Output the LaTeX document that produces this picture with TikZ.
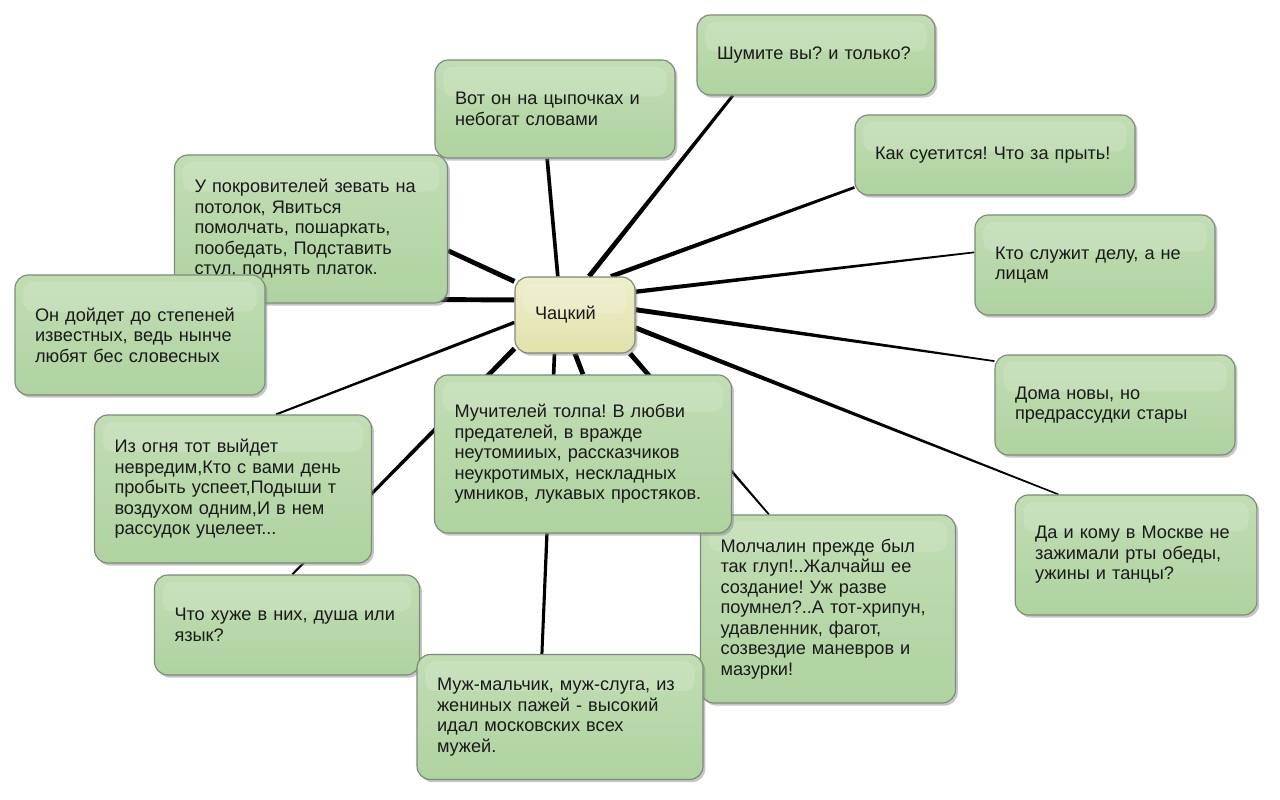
\documentclass[tikz,border=0pt]{standalone}
\usepackage{fontspec}
\setmainfont{Liberation Sans}
\usetikzlibrary{calc,shadows,backgrounds}
\definecolor{leaf}{HTML}{AFD3A0}
\definecolor{leaftop}{HTML}{C1DDB4}
\definecolor{rim}{HTML}{7D8B78}
\definecolor{hub}{HTML}{E2E2AC}
\definecolor{hubtop}{HTML}{EEEECB}
\definecolor{ink}{HTML}{1A1A1A}
\frenchspacing
% tapered spoke from the hub to a box
\newcommand{\spoke}[4]{\fill[black] ($(#1)!#3!90:(#2)$) -- ($(#2)!#4!-90:(#1)$) -- ($(#2)!#4!90:(#1)$) -- ($(#1)!#3!-90:(#2)$) -- cycle;}
\tikzset{box/.style={rounded corners=8pt,draw=rim,line width=.7pt,top color=leaftop,bottom color=leaf,
    text=ink,align=left,inner xsep=12pt,inner ysep=0pt,font=\fontsize{10.9}{12.3}\selectfont,
    drop shadow={shadow xshift=1.4pt,shadow yshift=-1.6pt,opacity=.45},
    path picture={\fill[white,opacity=.15,rounded corners=6pt] ([xshift=5pt,yshift=-4pt]path picture bounding box.north west) rectangle ([xshift=-5pt,yshift=-22pt]path picture bounding box.north east);}},
  hubbox/.style={box,top color=hubtop,bottom color=hub}}
\begin{document}
\begin{tikzpicture}[x=.6pt,y=-.6pt]
\useasboundingbox (0,0) rectangle (1280,800);
\node[hubbox,text width=48pt,minimum height=45.6pt] (c) at (575,315) {Чацкий};
\node[box,text width=118.8pt,minimum height=48pt] (shum) at (816,55) {Шумите вы? и только?};
\node[box,text width=120pt,minimum height=58.8pt] (vot) at (555,109) {Вот он на цыпочках и\\небогат словами};
\node[box,text width=144pt,minimum height=48pt] (kak) at (995,155) {Как суетится! Что за прыть!};
\node[box,text width=120pt,minimum height=60pt] (kto) at (1095,265) {Кто служит делу, а не\\лицам};
\node[box,text width=120pt,minimum height=60pt] (doma) at (1115,405) {Дома новы, но\\предрассудки стары};
\node[box,text width=121pt,minimum height=72pt] (da) at (1136,555) {Да и кому в Москве не\\зажимали рты обеды,\\ужины и танцы?};
\node[box,text width=139.8pt,minimum height=88.8pt] (upok) at (311,229) {У покровителей зевать на\\потолок, Явиться\\помолчать, пошаркать,\\пообедать, Подставить\\стул, поднять платок.};
\node[box,text width=126pt,minimum height=72pt] (on) at (140,335) {Он дойдет до степеней\\известных, ведь нынче\\любят бес словесных};
\node[box,text width=142.2pt,minimum height=88.8pt] (izog) at (233,489) {Из огня тот выйдет\\невредим,Кто с вами день\\пробыть успеет,Подыши т\\воздухом одним,И в нем\\рассудок уцелеет...};
\node[box,text width=135pt,minimum height=60pt] (chto) at (287,625) {Что хуже в них, душа или\\язык?};
\node[box,text width=129pt,minimum height=112.8pt] (molch) at (828,609) {Молчалин прежде был\\так глуп!..Жалчайш ее\\создание! Уж разве\\поумнел?..А тот-хрипун,\\удавленник, фагот,\\созвездие маневров и\\мазурки!};
\node[box,text width=154.2pt,minimum height=94.8pt] (much) at (583,454) {Мучителей толпа! В любви\\предателей, в вражде\\неутомииых, рассказчиков\\неукротимых, нескладных\\умников, лукавых простяков.};
\node[box,text width=147.6pt,minimum height=75pt] (muzh) at (560,717) {Муж-мальчик, муж-слуга, из\\жениных пажей - высокий\\идал московских всех\\мужей.};
\begin{pgfonlayer}{background}
\spoke{c.70}{shum.206}{1.5pt}{.9pt}
\spoke{c.114}{vot.261}{1.1pt}{1.1pt}
\spoke{c.47}{kak.193}{1.4pt}{.8pt}
\spoke{c.21}{kto.174}{1.3pt}{.5pt}
\spoke{c.5}{doma.160}{1.5pt}{.5pt}
\spoke{c.-12}{da.142}{1.5pt}{.45pt}
\spoke{c.-35}{molch.122}{1.5pt}{.5pt}
\spoke{c.-90}{much.north}{1.5pt}{1.4pt}
\spoke{c.242}{muzh.106}{1.1pt}{.9pt}
\spoke{c.209}{chto.84}{1.5pt}{.6pt}
\spoke{c.187}{izog.60}{1pt}{.6pt}
\spoke{c.166}{on.16}{1.5pt}{1.4pt}
\spoke{c.151}{upok.-9}{1.5pt}{1.4pt}
\end{pgfonlayer}
\end{tikzpicture}
\end{document}
